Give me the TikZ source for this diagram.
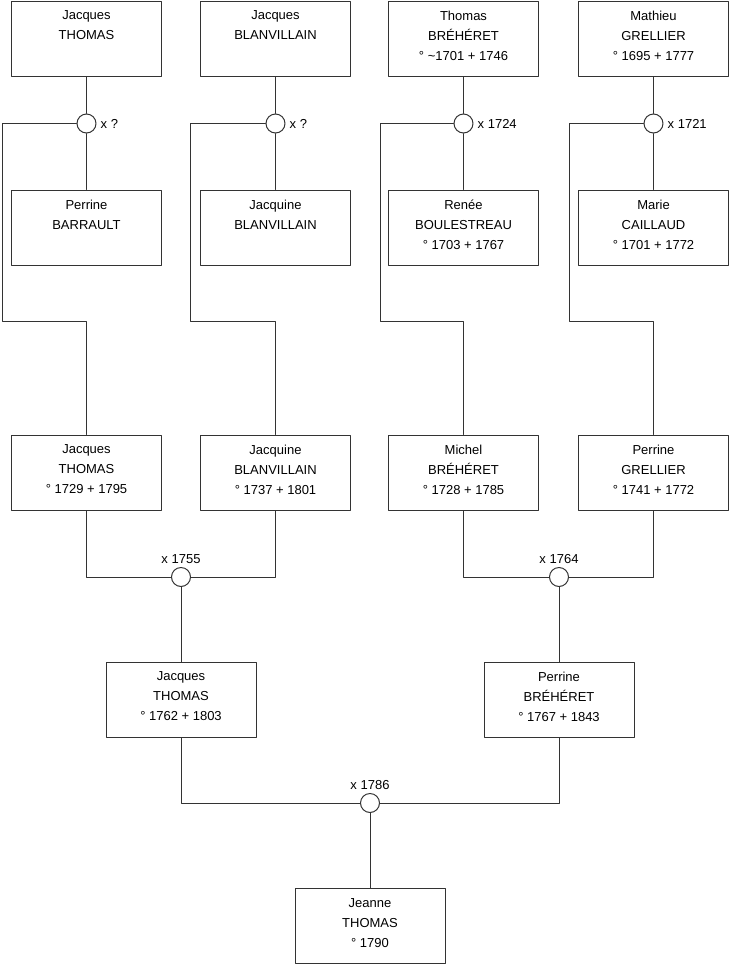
\documentclass[tikz,border=0pt]{standalone}
\usepackage{fontspec}
\setmainfont{Liberation Sans}

\begin{document}
\begin{tikzpicture}[x=1pt, y=-1pt, line cap=round, line join=round,
		person/.style={draw=black!80, line width=1pt, fill=white, minimum width=150pt, minimum height=75pt, inner sep=0pt, align=center, font=\fontsize{13}{20}\selectfont},
		union/.style={draw=black!80, line width=1pt, fill=white, circle, minimum size=19pt, inner sep=0pt},
		lbl/.style={font=\fontsize{13}{15}\selectfont, inner sep=0pt},
		link/.style={draw=black!80, line width=1pt}]
		
		\useasboundingbox (0,0) rectangle (740,975);
		
		% First row: the four great-great-grandfathers
		\node[person] (jthomasA) at (86.5,38.5) {Jacques\\THOMAS\\\strut};
		\node[person] (jblanvA) at (275.5,38.5) {Jacques\\BLANVILLAIN\\\strut};
		\node[person] (tbreheret) at (463.5,38.5) {Thomas\\BRÉHÉRET\\° \textasciitilde 1701 + 1746\strut};
		\node[person] (mgrellier) at (653.5,38.5) {Mathieu\\GRELLIER\\° 1695 + 1777\strut};
		
		% Marriages of the first generation
		\node[union, label={[lbl, label distance=4pt]right:x ?}] (uA) at (86.5,123.5) {};
		\node[union, label={[lbl, label distance=4pt]right:x ?}] (uB) at (275.5,123.5) {};
		\node[union, label={[lbl, label distance=4pt]right:x 1724}] (uC) at (463.5,123.5) {};
		\node[union, label={[lbl, label distance=4pt]right:x 1721}] (uD) at (653.5,123.5) {};
		
		% Second row: the wives
		\node[person] (pbarrault) at (86.5,227.5) {Perrine\\BARRAULT\\\strut};
		\node[person] (jqblanvA) at (275.5,227.5) {Jacquine\\BLANVILLAIN\\\strut};
		\node[person] (rboulestreau) at (463.5,227.5) {Renée\\BOULESTREAU\\° 1703 + 1767\strut};
		\node[person] (mcaillaud) at (653.5,227.5) {Marie\\CAILLAUD\\° 1701 + 1772\strut};
		
		% Third row: the children
		\node[person] (jthomasB) at (86.5,472.5) {Jacques\\THOMAS\\° 1729 + 1795\strut};
		\node[person] (jqblanvB) at (275.5,472.5) {Jacquine\\BLANVILLAIN\\° 1737 + 1801\strut};
		\node[person] (mbreheret) at (463.5,472.5) {Michel\\BRÉHÉRET\\° 1728 + 1785\strut};
		\node[person] (pgrellier) at (653.5,472.5) {Perrine\\GRELLIER\\° 1741 + 1772\strut};
		
		% Marriages of the second generation
		\node[union, label={[lbl, label distance=3pt]above:x 1755}] (uE) at (181,577) {};
		\node[union, label={[lbl, label distance=3pt]above:x 1764}] (uF) at (559,577) {};
		
		% Fourth row: the parents
		\node[person] (jthomasC) at (181,699.5) {Jacques\\THOMAS\\° 1762 + 1803\strut};
		\node[person] (pbreheret) at (559,699.5) {Perrine\\BRÉHÉRET\\° 1767 + 1843\strut};
		
		% Last marriage and the child
		\node[union, label={[lbl, label distance=3pt]above:x 1786}] (uG) at (370,803) {};
		\node[person] (jeanne) at (370,926) {Jeanne\\THOMAS\\° 1790\strut};
		
		% Couples to their marriage circle and to the wife
		\draw[link] (jthomasA) -- (uA) -- (pbarrault);
		\draw[link] (jblanvA) -- (uB) -- (jqblanvA);
		\draw[link] (tbreheret) -- (uC) -- (rboulestreau);
		\draw[link] (mgrellier) -- (uD) -- (mcaillaud);
		
		% Descent lines running round the wives
		\draw[link] (uA.west) -| (2,321) -| (jthomasB.north);
		\draw[link] (uB.west) -| (190.5,321) -| (jqblanvB.north);
		\draw[link] (uC.west) -| (380,321) -| (mbreheret.north);
		\draw[link] (uD.west) -| (569.5,321) -| (pgrellier.north);
		
		% Second generation
		\draw[link] (jthomasB.south) |- (uE.west);
		\draw[link] (jqblanvB.south) |- (uE.east);
		\draw[link] (uE) -- (jthomasC);
		\draw[link] (mbreheret.south) |- (uF.west);
		\draw[link] (pgrellier.south) |- (uF.east);
		\draw[link] (uF) -- (pbreheret);
		
		% Third generation
		\draw[link] (jthomasC.south) |- (uG.west);
		\draw[link] (pbreheret.south) |- (uG.east);
		\draw[link] (uG) -- (jeanne);
		
	\end{tikzpicture}
\end{document}
